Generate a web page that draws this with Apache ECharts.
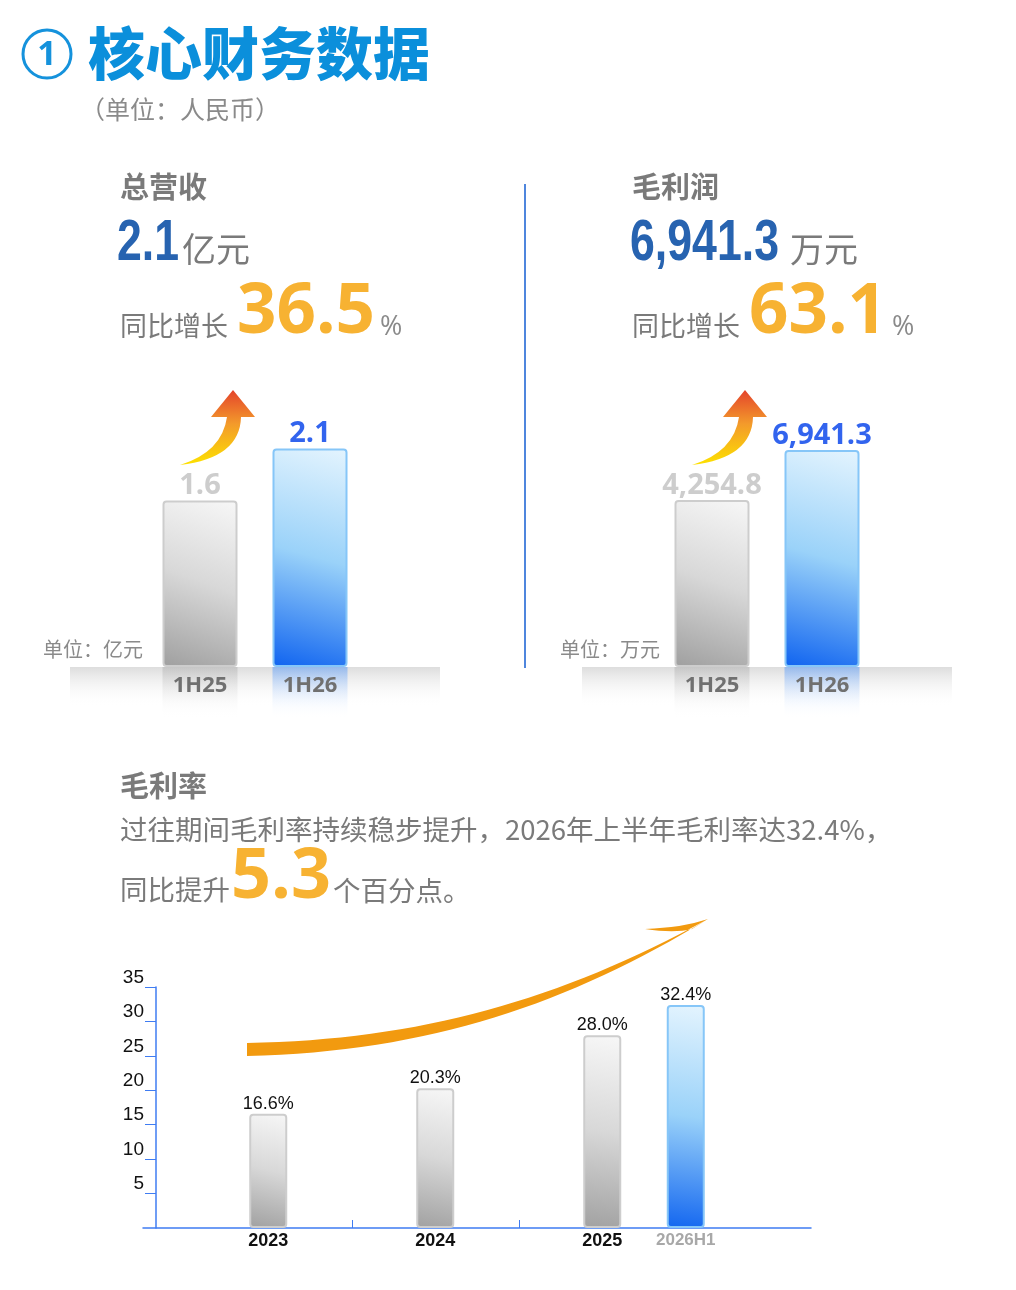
<!DOCTYPE html>
<html>
<head>
<meta charset="utf-8">
<script src="https://cdn.jsdelivr.net/npm/echarts@6/dist/echarts.min.js"></script>
<style>
html, body { margin: 0; padding: 0; background: #fff; }
#main { width: 1016px; height: 1290px; }
</style>
</head>
<body>
<div id="main"></div>
<script>
// ---- data ----
var periods = ['1H25', '1H26'];
var revenue = [1.6, 2.1];             // 亿元
var grossProfit = [4254.8, 6941.3];   // 万元
var revenueGrowth = '36.5';
var profitGrowth = '63.1';

var marginYears = ['2023', '2024', '2025', '2026H1'];
var marginRate = [16.6, 20.3, 28.0, 32.4];
var marginUp = '5.3';

// layout only: slot of the 8-slot category axis each year sits in
var marginSlots = [1, 3, 5, 6];
var slotCount = 8;

var CJK = '"Noto Sans CJK SC", sans-serif';
var NUM = '"Open Sans", sans-serif';
var ARIAL = '"Liberation Sans", sans-serif';

var grad = echarts.graphic.LinearGradient;

// plain path shape for the decorative arrows (graphic has no 'path' type)
echarts.graphic.registerShape('segPath', echarts.graphic.extendShape({
    shape: { segs: [] },
    buildPath: function (ctx, shape) {
        shape.segs.forEach(function (s) {
            var a = s.slice(1);
            if (s[0] === 'M') ctx.moveTo(a[0], a[1]);
            else if (s[0] === 'L') ctx.lineTo(a[0], a[1]);
            else if (s[0] === 'Q') ctx.quadraticCurveTo(a[0], a[1], a[2], a[3]);
            else if (s[0] === 'C') ctx.bezierCurveTo(a[0], a[1], a[2], a[3], a[4], a[5]);
            else ctx.closePath();
        });
    }
}));

function glass(blue) {
    if (blue) {
        return new grad(1, 0, 0.2, 1, [
            { offset: 0, color: '#e4f4fe' },
            { offset: 0.5, color: '#9ad2f9' },
            { offset: 1, color: '#1467f0' }
        ]);
    }
    return new grad(1, 0, 0.2, 1, [
        { offset: 0, color: '#f7f7f7' },
        { offset: 0.5, color: '#d8d8d8' },
        { offset: 1, color: '#a2a2a2' }
    ]);
}

function glassItem(blue) {
    return {
        color: glass(blue),
        borderColor: blue ? '#86c6f8' : '#cdcdcd',
        borderWidth: 2,
        borderRadius: 3
    };
}

function reflect(blue) {
    return new grad(0, 0, 0, 1, [
        { offset: 0, color: blue ? 'rgba(80,150,250,0.5)' : 'rgba(175,175,175,0.5)' },
        { offset: 1, color: 'rgba(255,255,255,0)' }
    ]);
}

function fmt(v) {
    return v.toLocaleString('en-US', { minimumFractionDigits: 1, maximumFractionDigits: 1 });
}

function txt(x, y, text, font, fill, align) {
    return {
        type: 'text', x: x, y: y, silent: true,
        style: { text: text, font: font, fill: fill, align: align || 'left', verticalAlign: 'middle' }
    };
}

function upArrow(dx) {
    return {
        type: 'segPath', silent: true, z: 1, x: dx,
        shape: {
            segs: [['M', 233, 390], ['L', 255, 417], ['L', 241, 417], ['Q', 240, 458, 180, 465],
                   ['Q', 222, 452, 227, 417], ['L', 211, 417], ['Z']]
        },
        style: {
            fill: new grad(0, 0, 0, 1, [
                { offset: 0, color: '#e4432b' },
                { offset: 0.45, color: '#f39a2b' },
                { offset: 1, color: '#fde100' }
            ])
        }
    };
}

function floor(x) {
    return {
        type: 'rect', silent: true, z: 0,
        shape: { x: x, y: 667, width: 370, height: 40 },
        style: {
            fill: new grad(0, 0, 0, 1, [
                { offset: 0, color: '#dddddd' },
                { offset: 1, color: 'rgba(255,255,255,0)' }
            ])
        }
    };
}

function bigNum(x, y, text) {
    var t = txt(x, y, text, 'bold 58px ' + ARIAL, '#2763b0');
    t.scaleX = 0.77;
    return t;
}

// build the slotted axis for the gross margin chart
var slotCats = [];
var slotVals = [];
for (var i = 0; i < slotCount; i++) { slotCats.push(''); slotVals.push('-'); }
marginYears.forEach(function (y, k) {
    slotCats[marginSlots[k]] = y;
    slotVals[marginSlots[k]] = {
        value: marginRate[k],
        itemStyle: glassItem(k === marginYears.length - 1)
    };
});

function topAxisLabel() {
    var base = {
        width: 75, height: 22, lineHeight: 52, padding: [8, 0, 22, 0], align: 'center',
        fontFamily: NUM, fontWeight: 'bold', fontSize: 22, color: '#707070'
    };
    return {
        interval: 0, margin: 0,
        formatter: function (v, i) { return (i === 0 ? '{g|' : '{b|') + v + '}'; },
        rich: {
            g: Object.assign({}, base, { backgroundColor: reflect(false) }),
            b: Object.assign({}, base, { backgroundColor: reflect(true) })
        }
    };
}

function topSeries(idx, values) {
    return {
        type: 'bar', xAxisIndex: idx, yAxisIndex: idx, barWidth: 75,
        data: values.map(function (v, k) {
            return {
                value: v,
                itemStyle: glassItem(k === 1),
                label: { color: k === 1 ? '#3264ee' : '#cdcdcd' }
            };
        }),
        label: {
            show: true, position: 'top', distance: 0,
            fontFamily: NUM, fontWeight: 'bold', fontSize: 29,
            formatter: function (p) { return fmt(p.value); }
        }
    };
}

var myChart = echarts.init(document.getElementById('main'));

var option = {
    backgroundColor: '#fff',
    animation: false,
    grid: [
        { left: 145, right: 651, top: 407, bottom: 623, outerBoundsMode: 'none' },
        { left: 657, right: 139, top: 407, bottom: 623, outerBoundsMode: 'none' },
        { left: 143, right: 205, top: 987, bottom: 62, outerBoundsMode: 'none' }
    ],
    xAxis: [
        { gridIndex: 0, type: 'category', data: periods, axisLine: { show: false }, axisTick: { show: false }, axisLabel: topAxisLabel() },
        { gridIndex: 1, type: 'category', data: periods, axisLine: { show: false }, axisTick: { show: false }, axisLabel: topAxisLabel() },
        {
            gridIndex: 2, type: 'category', data: slotCats,
            axisLine: { lineStyle: { color: '#3f7cf2', width: 1.5 } },
            axisTick: {
                show: true, inside: true, length: 8, alignWithLabel: true,
                interval: function (i) { return i === 2 || i === 4; },
                lineStyle: { color: '#3f7cf2' }
            },
            axisLabel: {
                interval: 0, margin: 4,
                formatter: function (v) {
                    if (!v) return '';
                    return (v.indexOf('H') > -1 ? '{h|' : '{y|') + v + '}';
                },
                rich: {
                    y: { fontFamily: ARIAL, fontWeight: 'bold', fontSize: 18, color: '#111' },
                    h: { fontFamily: ARIAL, fontWeight: 'bold', fontSize: 17, color: '#a8a8a8' }
                }
            }
        }
    ],
    yAxis: [
        { gridIndex: 0, type: 'value', min: 0, max: 2.5, show: false, splitLine: { show: false } },
        // the picture draws these bars at the same heights as the revenue panel,
        // so this hidden axis starts below zero
        { gridIndex: 1, type: 'value', min: -4700, max: 9250, startValue: -4700, show: false, splitLine: { show: false } },
        {
            gridIndex: 2, type: 'value', min: 0, max: 35, interval: 5, offset: -13,
            splitLine: { show: false },
            axisLine: { show: true, lineStyle: { color: '#3f7cf2', width: 1.5 } },
            axisTick: { show: true, length: 11, lineStyle: { color: '#3f7cf2' } },
            axisLabel: {
                margin: 12, verticalAlign: 'bottom', showMinLabel: false,
                fontFamily: ARIAL, fontSize: 19, color: '#111'
            }
        }
    ],
    series: [
        topSeries(0, revenue),
        topSeries(1, grossProfit),
        {
            type: 'bar', xAxisIndex: 2, yAxisIndex: 2, barWidth: 38,
            data: slotVals,
            label: {
                show: true, position: 'top', distance: 1,
                fontFamily: ARIAL, fontSize: 18, color: '#111',
                formatter: function (p) { return p.value.toFixed(1) + '%'; }
            }
        }
    ],
    graphic: [
        // title
        { type: 'circle', silent: true, shape: { cx: 47, cy: 54, r: 24 }, style: { fill: 'none', stroke: '#1592dc', lineWidth: 3 } },
        txt(47, 55, '1', 'bold 34px ' + NUM, '#1592dc', 'center'),
        txt(88, 53, '核心财务数据', '900 57px ' + CJK, '#0b8fdb'),
        txt(80, 109, '（单位：人民币）', '25px ' + CJK, '#8a8a8a'),

        // revenue block
        txt(120, 187, '总营收', 'bold 29px ' + CJK, '#7a7a7a'),
        bigNum(117, 244, fmt(revenue[1])),
        txt(182, 249, '亿元', '34px ' + CJK, '#7a7a7a'),
        txt(120, 326, '同比增长', '27px ' + CJK, '#7a7a7a'),
        txt(237, 313, revenueGrowth, 'bold 69px ' + NUM, '#f7b232'),
        txt(380, 327, '%', '27px ' + NUM, '#8a8a8a'),
        txt(43, 649, '单位：亿元', '20px ' + CJK, '#8a8a8a'),

        // gross profit block
        txt(632, 187, '毛利润', 'bold 29px ' + CJK, '#7a7a7a'),
        bigNum(630, 244, fmt(grossProfit[1])),
        txt(790, 249, '万元', '34px ' + CJK, '#7a7a7a'),
        txt(632, 326, '同比增长', '27px ' + CJK, '#7a7a7a'),
        txt(749, 313, profitGrowth, 'bold 69px ' + NUM, '#f7b232'),
        txt(892, 327, '%', '27px ' + NUM, '#8a8a8a'),
        txt(560, 649, '单位：万元', '20px ' + CJK, '#8a8a8a'),

        { type: 'line', silent: true, shape: { x1: 525, y1: 184, x2: 525, y2: 668 }, style: { stroke: '#4f86dd', lineWidth: 2 } },
        floor(70),
        floor(582),
        upArrow(0),
        upArrow(512),

        // gross margin block
        txt(120, 786, '毛利率', 'bold 29px ' + CJK, '#7a7a7a'),
        txt(120, 830, '过往期间毛利率持续稳步提升，2026年上半年毛利率达' + marginRate[3].toFixed(1) + '%，', '27.5px ' + CJK, '#7a7a7a'),
        txt(120, 890, '同比提升', '27.5px ' + CJK, '#7a7a7a'),
        txt(231, 878, marginUp, 'bold 70px ' + NUM, '#f7b232'),
        txt(333, 891, '个百分点。', '27.5px ' + CJK, '#7a7a7a'),

        // orange swoosh over the margin bars
        {
            type: 'segPath', silent: true, z: 1,
            shape: {
                segs: [['M', 247, 1043], ['C', 420, 1040, 560, 1000, 708, 919], ['C', 570, 1003, 430, 1052, 247, 1056], ['Z'],
                       ['M', 708, 919], ['C', 690, 925, 670, 928, 645, 929], ['C', 665, 932, 680, 932, 692, 929], ['Z']]
            },
            style: { fill: '#f29a0f' }
        }
    ]
};

myChart.setOption(option);
</script>
</body>
</html>
